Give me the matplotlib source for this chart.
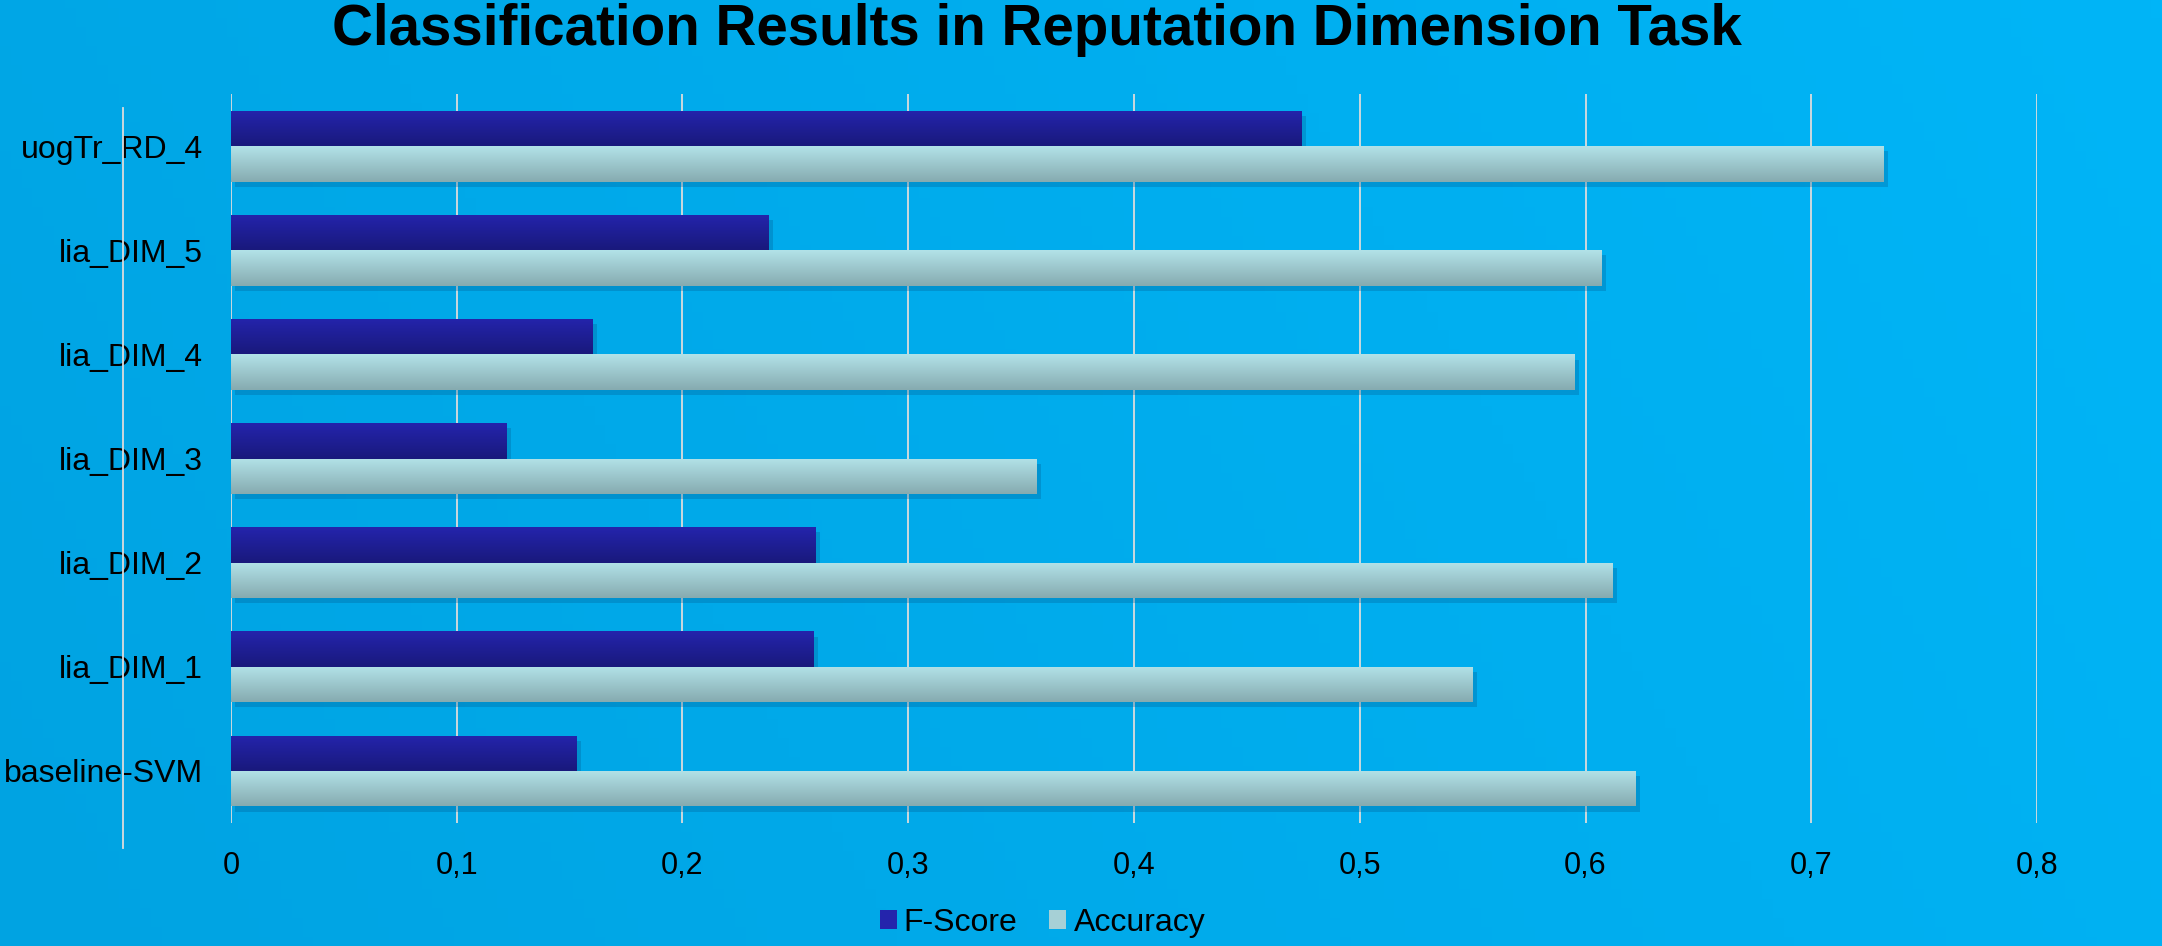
import numpy as np
from matplotlib import pyplot as plt
from matplotlib.colors import LinearSegmentedColormap
from matplotlib.lines import Line2D
from matplotlib.patches import Patch

RUNS = ["uogTr_RD_4", "lia_DIM_5", "lia_DIM_4", "lia_DIM_3", "lia_DIM_2", "lia_DIM_1", "baseline-SVM"]
F_SCORE = [0.474, 0.238, 0.160, 0.122, 0.259, 0.258, 0.153]
ACCURACY = [0.732, 0.607, 0.595, 0.357, 0.612, 0.550, 0.622]
XTICKS = [0, 0.1, 0.2, 0.3, 0.4, 0.5, 0.6, 0.7, 0.8]
XTICK_LABELS = ["0", "0,1", "0,2", "0,3", "0,4", "0,5", "0,6", "0,7", "0,8"]

plt.rcParams['font.family'] = ['Liberation Sans', 'DejaVu Sans']

F_TOP, F_BOT = "#2424AC", "#19197C"
A_TOP, A_BOT = "#B2E2E8", "#86ABB0"


def gradient_fill(ax, bars, top, bottom):
    cmap = LinearSegmentedColormap.from_list("g", [bottom, top])
    grad = np.linspace(0, 1, 64).reshape(-1, 1)
    for b in bars:
        x0, y0 = b.get_x(), b.get_y()
        w, h = b.get_width(), b.get_height()
        im = ax.imshow(grad, cmap=cmap, aspect="auto", origin="lower",
                       extent=[x0, x0 + w, y0, y0 + h], zorder=3)
        im.set_clip_path(b)
        b.set_facecolor("none")


def main():
    fig = plt.figure(figsize=(21.62, 9.46), dpi=100)

    # background gradient
    bg = fig.add_axes([0, 0, 1, 1], zorder=-10)
    xx, yy = np.meshgrid(np.linspace(0, 1, 200), np.linspace(0, 1, 100))
    bg_cmap = LinearSegmentedColormap.from_list("bg", ["#00A3E2", "#00B5F7"])
    bg.imshow(0.8 * xx + 0.2 * yy, cmap=bg_cmap, aspect="auto", origin="lower",
              extent=[0, 1, 0, 1])
    bg.set_axis_off()

    ax = fig.add_axes([0.1068, 0.13, 0.8354, 0.7706])
    ax.patch.set_alpha(0)

    n = len(RUNS)
    y = np.arange(n)[::-1]
    h = 0.34

    # soft shadows
    ax.barh(y + h / 2 - 0.05, F_SCORE, height=h, left=0.002, color="#005C92",
            alpha=0.3, zorder=2, linewidth=0)
    ax.barh(y - h / 2 - 0.05, ACCURACY, height=h, left=0.002, color="#005C92",
            alpha=0.3, zorder=2, linewidth=0)

    f_bars = ax.barh(y + h / 2, F_SCORE, height=h, color=F_TOP, zorder=3, linewidth=0)
    a_bars = ax.barh(y - h / 2, ACCURACY, height=h, color=A_TOP, zorder=3, linewidth=0)
    gradient_fill(ax, f_bars, F_TOP, F_BOT)
    gradient_fill(ax, a_bars, A_TOP, A_BOT)

    ax.set_xlim(0, 0.8)
    ax.set_ylim(-0.5, n - 0.5)
    ax.set_xticks(XTICKS)
    ax.set_xticklabels(XTICK_LABELS)
    ax.set_yticks(y)
    ax.set_yticklabels(RUNS)
    ax.tick_params(axis="x", length=0, pad=20, labelsize=22)
    ax.tick_params(axis="y", length=0, pad=20, labelsize=23)
    ax.grid(axis="x", color="#DCDCDC", linewidth=1.3, zorder=1)
    ax.set_axisbelow(True)
    for s in ax.spines.values():
        s.set_visible(False)

    # detached vertical axis line at the far left
    fig.add_artist(Line2D([0.0569, 0.0569], [0.1036, 0.8858], color="#DCDCDC",
                          linewidth=1.3))

    fig.text(0.4797, 0.968, "Classification Results in Reputation Dimension Task",
             ha="center", va="center", fontsize=40.7, fontweight="bold")

    handles = [Patch(facecolor=F_TOP, edgecolor="none", label="F-Score"),
               Patch(facecolor="#A6D0D6", edgecolor="none", label="Accuracy")]
    fig.legend(handles=handles, loc="center", bbox_to_anchor=(0.4822, 0.0243), ncol=2,
               frameon=False, fontsize=23, handlelength=0.53, handleheight=0.53,
               handletextpad=0.22, columnspacing=1.0)

    fig.savefig("out.png", dpi=100)


if __name__ == '__main__':
    main()
